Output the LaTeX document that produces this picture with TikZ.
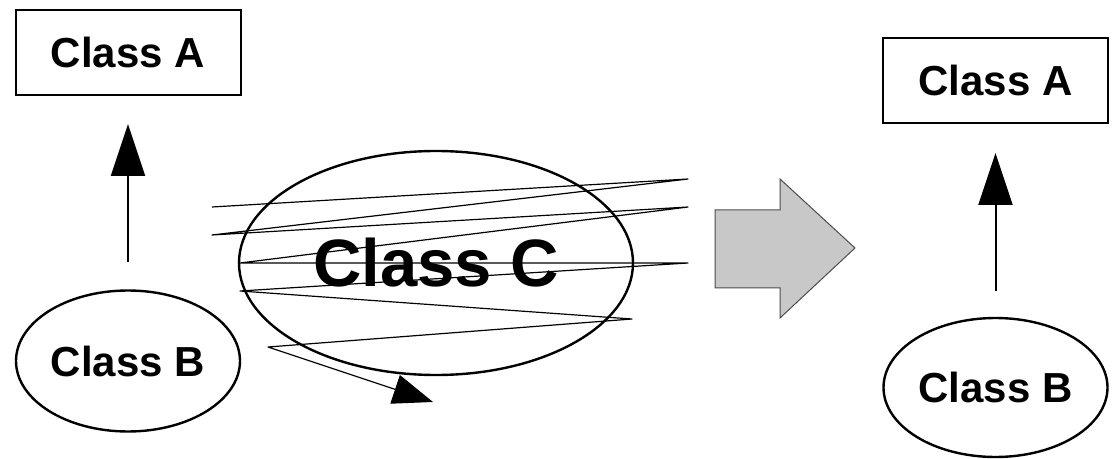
\documentclass[tikz,border=0pt]{standalone}
\usepackage{fontspec}
\setmainfont{Liberation Sans}
\usetikzlibrary{arrows.meta,shapes.geometric}
\usepackage{xcolor}
\definecolor{mgray}{RGB}{200,200,200}

\begin{document}
\begin{tikzpicture}[x=1pt, y=1pt,
    classbox/.style={draw=black, line width=2pt, minimum width=225pt, minimum height=85pt, inner sep=0pt, font=\fontsize{42}{42}\selectfont\bfseries},
    classell/.style={draw=black, ellipse, line width=2.4pt, minimum width=224pt, minimum height=141pt, inner sep=0pt, font=\fontsize{42}{42}\selectfont\bfseries},
    inherit/.style={line width=2pt, -{Triangle[length=52pt, width=34pt]}}]
  \useasboundingbox (0,0) rectangle (1113,458);
  % before
  \node [classbox] (aL) at (128,405.5) {Class A};
  \node [classell] (bL) at (128,97) {Class B};
  \draw [inherit, shorten <=27pt, shorten >=28pt] (bL) -- (aL);
  \node [classell, minimum width=394pt, minimum height=224pt, font=\fontsize{67}{67}\selectfont\bfseries] (cC) at (436,195) {Class C};
  \draw [line width=1.2pt, line join=round, -{Triangle[length=40pt, width=30pt]}]
    (212,251) -- (688,279) -- (212,223) -- (688,251) -- (240,195) -- (688,195)
    -- (240,167) -- (632,139) -- (268,111) -- (433,56);
  % refactoring arrow
  \draw [draw=black!70, fill=mgray, line width=1pt]
    (715,248) -- (780,248) -- (780,279) -- (855,210) -- (780,140) -- (780,170) -- (715,170) -- cycle;
  % after
  \node [classbox] (aR) at (995.5,377.5) {Class A};
  \node [classell, minimum height=139pt] (bR) at (995.5,70.5) {Class B};
  \draw [inherit, shorten <=26pt, shorten >=29pt] (bR) -- (aR);
\end{tikzpicture}
\end{document}
